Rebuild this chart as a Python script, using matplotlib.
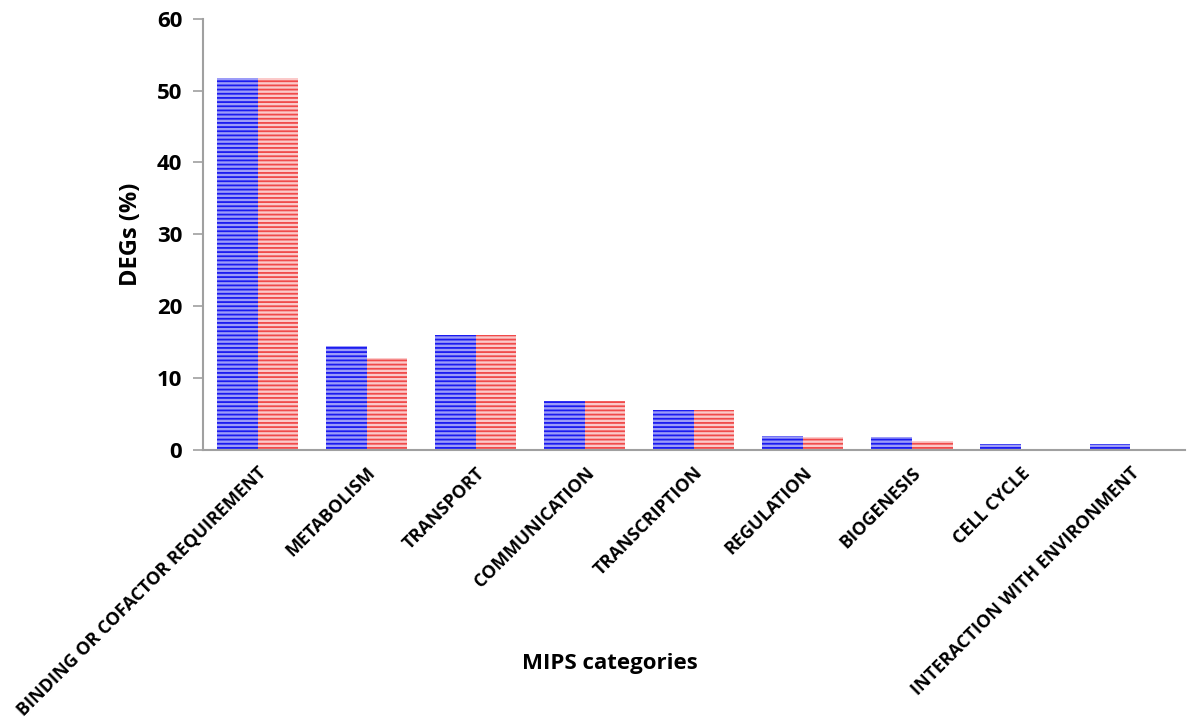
import numpy as np
import matplotlib.pyplot as plt

# MIPS functional categories and DEG percentages
categories = ['BINDING OR COFACTOR REQUIREMENT', 'METABOLISM', 'TRANSPORT',
              'COMMUNICATION', 'TRANSCRIPTION', 'REGULATION', 'BIOGENESIS',
              'CELL CYCLE', 'INTERACTION WITH ENVIRONMENT']
blue_vals = [51.7, 14.4, 16.0, 6.8, 5.6, 1.9, 1.8, 0.8, 0.8]
red_vals = [51.7, 12.8, 16.0, 6.8, 5.6, 1.8, 1.3, 0.0, 0.0]
yticks = [0, 10, 20, 30, 40, 50, 60]

plt.rcParams['font.family'] = ['Open Sans', 'DejaVu Sans']
plt.rcParams['hatch.linewidth'] = 1.3

fig = plt.figure(figsize=(11.87, 7.2), dpi=100)
ax = fig.add_axes([0.171, 0.375, 0.827, 0.599])

x = np.arange(len(categories))
w = 0.372
ax.bar(x - w, blue_vals, width=w, align='edge', color='#9c9cf8',
       edgecolor='#1a1af0', hatch='----', linewidth=0)
ax.bar(x, red_vals, width=w, align='edge', color='#fbcaca',
       edgecolor='#f04a4a', hatch='----', linewidth=0)

ax.set_xlim(-0.5, len(categories) - 0.5)
ax.set_ylim(0, 60)
ax.set_yticks(yticks)
ax.set_yticklabels([str(t) for t in yticks], fontsize=16, fontweight='bold')
ax.tick_params(axis='y', direction='out', length=7, width=1.2, color='#a0a0a0', pad=8)
ax.set_xticks(x)
ax.set_xticklabels(categories, rotation=45, ha='right', va='top',
                   rotation_mode='anchor', fontsize=13, fontweight='bold')
ax.tick_params(axis='x', length=0, pad=10)

for s in ['top', 'right']:
    ax.spines[s].set_visible(False)
for s in ['left', 'bottom']:
    ax.spines[s].set_color('#a0a0a0')
    ax.spines[s].set_linewidth(1.5)

ax.set_ylabel('DEGs (%)', fontsize=17, fontweight='bold', labelpad=10)
fig.text(0.514, 0.079, 'MIPS categories', ha='center', va='center',
         fontsize=16, fontweight='bold')

fig.savefig('out.png', dpi=100)
